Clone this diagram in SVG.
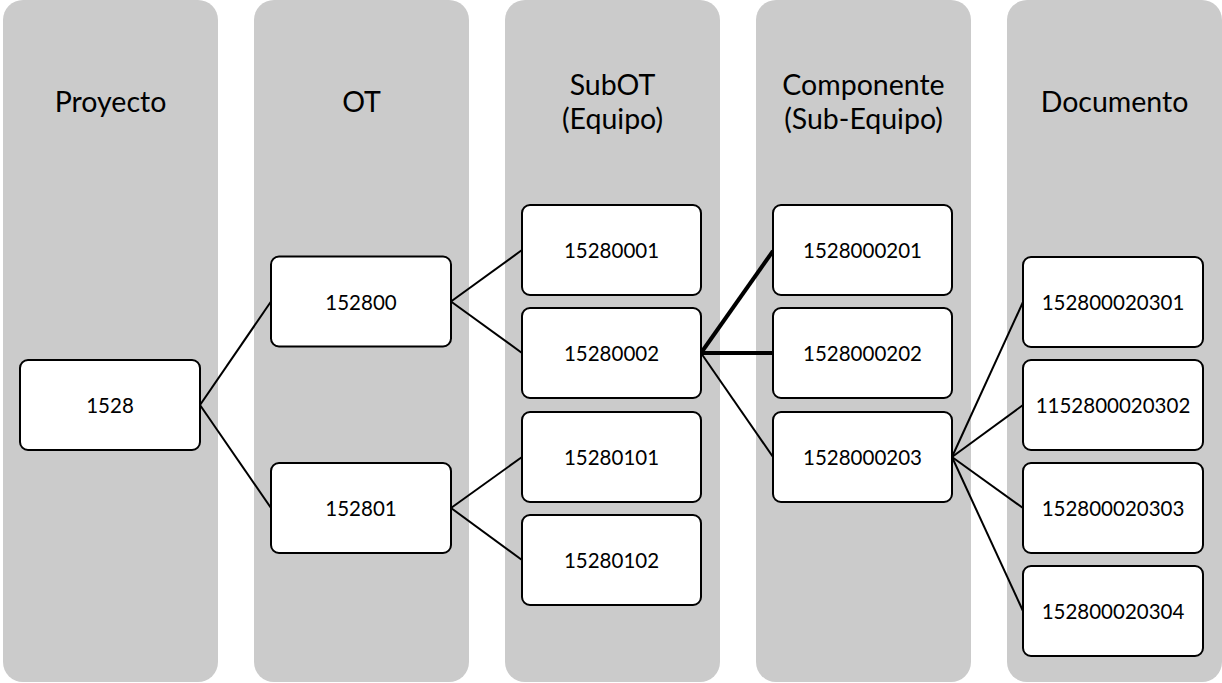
<svg xmlns="http://www.w3.org/2000/svg" width="1222" height="683" viewBox="0 0 1222 683">
  <style>
    .lane { fill: #cbcbcb; }
    .lane-title { font-family: Lato, "Noto Sans", sans-serif; font-size: 28.5px; fill: #000; text-anchor: middle; }
    .box { fill: #fff; stroke: #000; stroke-width: 2; }
    .label { font-family: Lato, "Noto Sans", sans-serif; font-size: 20.5px; fill: #000; text-anchor: middle; dominant-baseline: central; }
    .link { stroke: #000; stroke-width: 2; fill: none; }
    .link.strong { stroke-width: 4; }
  </style>

  <!-- Hierarchy levels (background lanes) -->
  <g id="lanes">
    <g id="lane-proyecto">
      <rect class="lane" x="3" y="0" width="215" height="682" rx="20" ry="20"/>
      <text class="lane-title" x="110.5" y="112">Proyecto</text>
    </g>
    <g id="lane-ot">
      <rect class="lane" x="254" y="0" width="215" height="682" rx="20" ry="20"/>
      <text class="lane-title" x="361.5" y="112">OT</text>
    </g>
    <g id="lane-subot">
      <rect class="lane" x="505" y="0" width="215" height="682" rx="20" ry="20"/>
      <text class="lane-title" x="612.5" y="95">SubOT</text>
      <text class="lane-title" x="612.5" y="129">(Equipo)</text>
    </g>
    <g id="lane-componente">
      <rect class="lane" x="756" y="0" width="215" height="682" rx="20" ry="20"/>
      <text class="lane-title" x="863.5" y="95">Componente</text>
      <text class="lane-title" x="863.5" y="129">(Sub-Equipo)</text>
    </g>
    <g id="lane-documento">
      <rect class="lane" x="1007" y="0" width="215" height="682" rx="20" ry="20"/>
      <text class="lane-title" x="1114.5" y="112">Documento</text>
    </g>
  </g>

  <!-- Connectors -->
  <g id="connectors">
    <line class="link" x1="200" y1="405" x2="271" y2="301.5"/>
    <line class="link" x1="200" y1="405" x2="271" y2="508"/>
    <line class="link" x1="451" y1="301.5" x2="522" y2="250"/>
    <line class="link" x1="451" y1="301.5" x2="522" y2="353"/>
    <line class="link" x1="451" y1="508" x2="522" y2="457"/>
    <line class="link" x1="451" y1="508" x2="522" y2="560"/>
    <line class="link strong" x1="701" y1="353" x2="773" y2="251"/>
    <line class="link strong" x1="701" y1="353" x2="773" y2="353"/>
    <line class="link" x1="701" y1="353" x2="773" y2="457"/>
    <line class="link" x1="952" y1="457" x2="1023" y2="302"/>
    <line class="link" x1="952" y1="457" x2="1023" y2="405"/>
    <line class="link" x1="952" y1="457" x2="1023" y2="508"/>
    <line class="link" x1="952" y1="457" x2="1023" y2="611"/>
  </g>

  <!-- Nodes -->
  <g id="n-1528">
    <rect class="box" x="20" y="360" width="180" height="90" rx="8"/>
    <text class="label" x="110" y="405">1528</text>
  </g>
  <g id="n-152800">
    <rect class="box" x="271" y="256.5" width="180" height="90" rx="8"/>
    <text class="label" x="361" y="301.5">152800</text>
  </g>
  <g id="n-152801">
    <rect class="box" x="271" y="463" width="180" height="90" rx="8"/>
    <text class="label" x="361" y="508">152801</text>
  </g>
  <g id="n-15280001">
    <rect class="box" x="522" y="205" width="179" height="90" rx="8"/>
    <text class="label" x="611.5" y="250">15280001</text>
  </g>
  <g id="n-15280002">
    <rect class="box" x="522" y="308" width="179" height="90" rx="8"/>
    <text class="label" x="611.5" y="353">15280002</text>
  </g>
  <g id="n-15280101">
    <rect class="box" x="522" y="412" width="179" height="90" rx="8"/>
    <text class="label" x="611.5" y="457">15280101</text>
  </g>
  <g id="n-15280102">
    <rect class="box" x="522" y="515" width="179" height="90" rx="8"/>
    <text class="label" x="611.5" y="560">15280102</text>
  </g>
  <g id="n-1528000201">
    <rect class="box" x="773" y="205" width="179" height="90" rx="8"/>
    <text class="label" x="862.5" y="250">1528000201</text>
  </g>
  <g id="n-1528000202">
    <rect class="box" x="773" y="308" width="179" height="90" rx="8"/>
    <text class="label" x="862.5" y="353">1528000202</text>
  </g>
  <g id="n-1528000203">
    <rect class="box" x="773" y="412" width="179" height="90" rx="8"/>
    <text class="label" x="862.5" y="457">1528000203</text>
  </g>
  <g id="n-152800020301">
    <rect class="box" x="1023" y="257" width="180" height="90" rx="8"/>
    <text class="label" x="1113" y="302">152800020301</text>
  </g>
  <g id="n-1152800020302">
    <rect class="box" x="1023" y="360" width="180" height="90" rx="8"/>
    <text class="label" x="1113" y="405">1152800020302</text>
  </g>
  <g id="n-152800020303">
    <rect class="box" x="1023" y="463" width="180" height="90" rx="8"/>
    <text class="label" x="1113" y="508">152800020303</text>
  </g>
  <g id="n-152800020304">
    <rect class="box" x="1023" y="566" width="180" height="90" rx="8"/>
    <text class="label" x="1113" y="611">152800020304</text>
  </g>
</svg>
